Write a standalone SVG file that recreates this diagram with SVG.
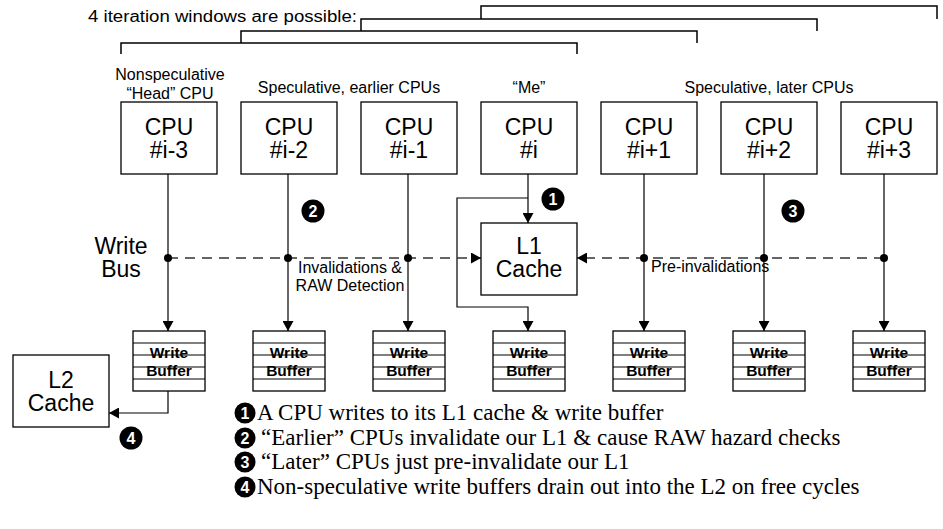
<svg xmlns="http://www.w3.org/2000/svg" width="943" height="529" viewBox="0 0 943 529">
<style>
.box{fill:#fff;stroke:#000;stroke-width:1.3}
.ln{fill:none;stroke:#000;stroke-width:1.2}
.br{fill:none;stroke:#000;stroke-width:1.5}
.bus{fill:none;stroke:#333;stroke-width:1.3;stroke-dasharray:10 7}
.big{font-family:"Liberation Sans",Arial,sans-serif;font-size:23px;text-anchor:middle;fill:#000}
.lbl{font-family:"Liberation Sans",Arial,sans-serif;font-size:16px;fill:#000}
.mid{text-anchor:middle}
.wb{font-family:"Liberation Sans",Arial,sans-serif;font-size:15.5px;font-weight:bold;text-anchor:middle;fill:#000}
.leg{font-family:"Liberation Serif","Times New Roman",serif;font-size:23px;fill:#000}
.num{font-family:"Liberation Sans",Arial,sans-serif;font-weight:bold;font-size:16px;fill:#fff;text-anchor:middle}
.dot{fill:#000}
</style>
<defs>
<marker id="ah" markerUnits="userSpaceOnUse" markerWidth="11" markerHeight="11" refX="10" refY="5.5" orient="auto"><path d="M0,0 L10,5.5 L0,11 z" fill="#000"/></marker>
</defs>

<g id="windows">
<text class="lbl" x="88" y="22" font-size="17" textLength="269" lengthAdjust="spacingAndGlyphs">4 iteration windows are possible:</text>
<path class="br" d="M481,19 V6 H937 V19"/>
<path class="br" d="M361,31 V19 H817 V31"/>
<path class="br" d="M241,43 V31 H697 V43"/>
<path class="br" d="M121,54 V43 H577 V54"/>
</g>

<g id="group-labels">
<text class="lbl mid" x="170" y="80" font-size="15">Nonspeculative</text>
<text class="lbl mid" x="170" y="99" font-size="15">“Head” CPU</text>
<text class="lbl mid" x="349" y="93">Speculative, earlier CPUs</text>
<text class="lbl mid" x="529" y="93">“Me”</text>
<text class="lbl mid" x="769" y="93">Speculative, later CPUs</text>
<text class="big" x="121" y="254">Write</text>
<text class="big" x="121" y="277">Bus</text>
</g>

<g id="connectors">
<path class="ln" d="M168,174 V331" marker-end="url(#ah)"/>
<path class="ln" d="M288,174 V331" marker-end="url(#ah)"/>
<path class="ln" d="M408,174 V331" marker-end="url(#ah)"/>
<path class="ln" d="M528,174 V223" marker-end="url(#ah)"/>
<path class="ln" d="M528,198 H457 V307 H528 V331" marker-end="url(#ah)"/>
<path class="ln" d="M644,174 V331" marker-end="url(#ah)"/>
<path class="ln" d="M764,174 V331" marker-end="url(#ah)"/>
<path class="ln" d="M884,174 V331" marker-end="url(#ah)"/>
<path class="bus" d="M168,258 H481" marker-end="url(#ah)"/>
<path class="bus" d="M884,258 H577" marker-end="url(#ah)"/>
<path class="ln" d="M168,391 V413 H109" marker-end="url(#ah)"/>
<circle class="dot" cx="168" cy="258" r="4"/>
<circle class="dot" cx="288" cy="258" r="4"/>
<circle class="dot" cx="408" cy="258" r="4"/>
<circle class="dot" cx="644" cy="258" r="4"/>
<circle class="dot" cx="764" cy="258" r="4"/>
<circle class="dot" cx="884" cy="258" r="4"/>
<text class="lbl mid" x="350" y="273">Invalidations &amp;</text>
<text class="lbl mid" x="350" y="291">RAW Detection</text>
<text class="lbl" x="651" y="272">Pre-invalidations</text>
</g>

<g id="cpu-i-3"><rect class="box" x="121" y="102" width="96" height="72"/><text class="big" x="169" y="135">CPU</text><text class="big" x="169" y="158">#i-3</text></g>
<g id="cpu-i-2"><rect class="box" x="241" y="102" width="96" height="72"/><text class="big" x="289" y="135">CPU</text><text class="big" x="289" y="158">#i-2</text></g>
<g id="cpu-i-1"><rect class="box" x="361" y="102" width="96" height="72"/><text class="big" x="409" y="135">CPU</text><text class="big" x="409" y="158">#i-1</text></g>
<g id="cpu-i"><rect class="box" x="481" y="102" width="96" height="72"/><text class="big" x="529" y="135">CPU</text><text class="big" x="529" y="158">#i</text></g>
<g id="cpu-i+1"><rect class="box" x="601" y="102" width="96" height="72"/><text class="big" x="649" y="135">CPU</text><text class="big" x="649" y="158">#i+1</text></g>
<g id="cpu-i+2"><rect class="box" x="721" y="102" width="96" height="72"/><text class="big" x="769" y="135">CPU</text><text class="big" x="769" y="158">#i+2</text></g>
<g id="cpu-i+3"><rect class="box" x="841" y="102" width="96" height="72"/><text class="big" x="889" y="135">CPU</text><text class="big" x="889" y="158">#i+3</text></g>

<g id="l1-cache"><rect class="box" x="481" y="223" width="96" height="72"/><text class="big" x="529" y="254">L1</text><text class="big" x="529" y="277">Cache</text></g>
<g id="l2-cache"><rect class="box" x="13" y="355" width="96" height="72"/><text class="big" x="61" y="388">L2</text><text class="big" x="61" y="411">Cache</text></g>

<g id="wb-1"><rect class="box" x="133" y="331" width="72" height="60"/><text class="wb" x="169" y="358">Write</text><text class="wb" x="169" y="376">Buffer</text><path class="ln" d="M133,343 H205 M133,355 H205 M133,367 H205 M133,379 H205"/></g>
<g id="wb-2"><rect class="box" x="253" y="331" width="72" height="60"/><text class="wb" x="289" y="358">Write</text><text class="wb" x="289" y="376">Buffer</text><path class="ln" d="M253,343 H325 M253,355 H325 M253,367 H325 M253,379 H325"/></g>
<g id="wb-3"><rect class="box" x="373" y="331" width="72" height="60"/><text class="wb" x="409" y="358">Write</text><text class="wb" x="409" y="376">Buffer</text><path class="ln" d="M373,343 H445 M373,355 H445 M373,367 H445 M373,379 H445"/></g>
<g id="wb-4"><rect class="box" x="493" y="331" width="72" height="60"/><text class="wb" x="529" y="358">Write</text><text class="wb" x="529" y="376">Buffer</text><path class="ln" d="M493,343 H565 M493,355 H565 M493,367 H565 M493,379 H565"/></g>
<g id="wb-5"><rect class="box" x="613" y="331" width="72" height="60"/><text class="wb" x="649" y="358">Write</text><text class="wb" x="649" y="376">Buffer</text><path class="ln" d="M613,343 H685 M613,355 H685 M613,367 H685 M613,379 H685"/></g>
<g id="wb-6"><rect class="box" x="733" y="331" width="72" height="60"/><text class="wb" x="769" y="358">Write</text><text class="wb" x="769" y="376">Buffer</text><path class="ln" d="M733,343 H805 M733,355 H805 M733,367 H805 M733,379 H805"/></g>
<g id="wb-7"><rect class="box" x="853" y="331" width="72" height="60"/><text class="wb" x="889" y="358">Write</text><text class="wb" x="889" y="376">Buffer</text><path class="ln" d="M853,343 H925 M853,355 H925 M853,367 H925 M853,379 H925"/></g>

<g id="markers">
<circle cx="553" cy="199" r="11.5"/><text class="num" x="553" y="205">1</text>
<circle cx="313" cy="211" r="11.5"/><text class="num" x="313" y="217">2</text>
<circle cx="793" cy="211" r="11.5"/><text class="num" x="793" y="217">3</text>
<circle cx="131" cy="438" r="11.5"/><text class="num" x="131" y="444">4</text>
</g>

<g id="legend">
<circle cx="245" cy="413" r="10.5"/><text class="num" x="245" y="418.5" font-size="15">1</text>
<text class="leg" x="257" y="420">A CPU writes to its L1 cache &amp; write buffer</text>
<circle cx="245" cy="438" r="10.5"/><text class="num" x="245" y="443.5" font-size="15">2</text>
<text class="leg" x="261" y="445">“Earlier” CPUs invalidate our L1 &amp; cause RAW hazard checks</text>
<circle cx="245" cy="462" r="10.5"/><text class="num" x="245" y="467.5" font-size="15">3</text>
<text class="leg" x="261" y="469">“Later” CPUs just pre-invalidate our L1</text>
<circle cx="245" cy="487" r="10.5"/><text class="num" x="245" y="492.5" font-size="15">4</text>
<text class="leg" x="257" y="494">Non-speculative write buffers drain out into the L2 on free cycles</text>
</g>
</svg>
